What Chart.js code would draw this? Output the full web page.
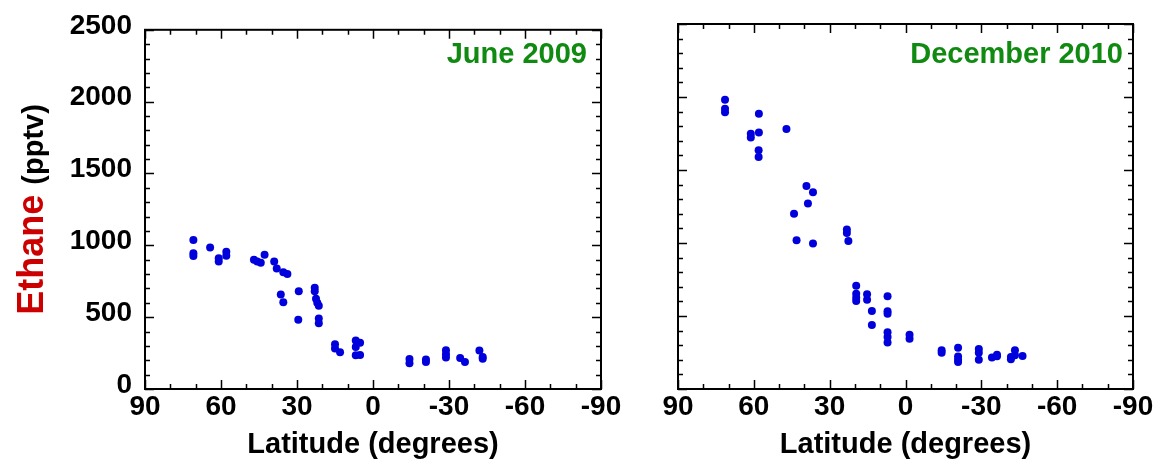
<!DOCTYPE html>
<html><head><meta charset="utf-8">
<script src="https://cdn.jsdelivr.net/npm/chart.js@4.4.0/dist/chart.umd.min.js"></script>
<style>
html,body{margin:0;padding:0;background:#fff;}
#wrap{position:relative;width:1168px;height:462px;}
canvas{position:absolute;left:0;top:0;}
</style></head>
<body><div id="wrap"><canvas id="c1" width="1168" height="462"></canvas><canvas id="c2" width="1168" height="462"></canvas></div>
<script>
const juneLat = [70.9,70.9,70.9,64.3,60.9,60.9,57.9,57.9,47.0,45.7,44.3,42.8,39.0,38.0,35.4,33.8,36.4,35.4,29.3,29.5,23.0,23.0,22.5,22.0,21.4,21.4,21.4,15.0,15.0,13.0,6.8,5.1,6.8,6.8,5.1,-14.4,-14.4,-20.9,-20.9,-28.8,-28.8,-28.8,-34.4,-36.3,-42.0,-43.3,-43.3];
const juneEthane = [1037,945,925,984,910,888,955,928,900,888,879,934,888,838,813,801,658,603,681,482,705,680,628,600,580,490,458,311,282,255,338,322,292,235,237,208,180,205,188,270,242,220,215,188,268,222,210];
const decLat = [71.4,71.4,71.4,58.0,61.2,61.2,58.0,47.1,58.1,58.1,39.2,36.6,38.6,44.1,43.1,36.6,23.2,23.2,22.6,19.5,19.5,19.5,19.5,15.2,15.2,13.3,13.3,7.1,7.1,7.1,7.1,7.1,7.1,-1.6,-1.6,-14.3,-14.3,-20.8,-20.8,-20.8,-20.8,-29.0,-29.0,-29.0,-34.2,-36.2,-36.2,-41.7,-41.7,-43.3,-43.3,-46.3];
const decEthane = [1982,1920,1895,1886,1749,1722,1756,1781,1635,1589,1390,1347,1270,1201,1018,996,1092,1068,1014,708,652,625,603,649,612,534,438,635,532,516,388,356,318,372,345,265,249,283,222,200,185,274,249,201,215,235,224,219,203,265,231,226];
const panelTitles = ["June 2009", "December 2010"];
const xMin = -90, xMax = 90, xStep = 30, xMinorStep = 10;
const yMin = 0, yMax = 2500, yStep = 500, yMinorStep = 100;

const FONT = "'Liberation Sans', Arial, sans-serif";
const BLUE = 'rgb(0,0,220)';
const GREEN = '#108a10';
const RED = '#cc0000';

const framePlugin = {
  id: 'frame',
  afterDraw(chart) {
    const ctx = chart.ctx, a = chart.chartArea;
    const xs = chart.scales.x, ys = chart.scales.y;
    const o = chart.options.plugins.frame;
    ctx.save();
    ctx.strokeStyle = '#000';
    ctx.lineWidth = 1.5;
    for (let v = xMin; v <= xMax; v += xMinorStep) {
      const px = Math.round(xs.getPixelForValue(v)) + 0.5;
      const len = (v % xStep === 0) ? 9 : 5;
      ctx.beginPath();
      ctx.moveTo(px, a.bottom); ctx.lineTo(px, a.bottom - len);
      ctx.moveTo(px, a.top); ctx.lineTo(px, a.top + len);
      ctx.stroke();
    }
    for (let v = yMin; v <= yMax; v += yMinorStep) {
      const py = Math.round(ys.getPixelForValue(v)) + 0.5;
      const len = (v % yStep === 0) ? 9 : 5;
      ctx.beginPath();
      ctx.moveTo(a.left, py); ctx.lineTo(a.left + len, py);
      ctx.moveTo(a.right, py); ctx.lineTo(a.right - len, py);
      ctx.stroke();
    }
    ctx.lineWidth = 2;
    ctx.strokeRect(a.left, a.top, a.right - a.left, a.bottom - a.top);
    // panel title
    ctx.fillStyle = GREEN;
    ctx.font = "bold 29px " + FONT;
    ctx.textAlign = 'right';
    ctx.textBaseline = 'alphabetic';
    ctx.fillText(o.title, a.right - o.titleInset, 63);
    // x axis title
    ctx.fillStyle = '#000';
    ctx.textAlign = 'center';
    ctx.fillText('Latitude (degrees)', (a.left + a.right) / 2, 453);
    if (o.yTitle) {
      ctx.save();
      const cy = (a.top + a.bottom) / 2;
      ctx.translate(43, cy);
      ctx.rotate(-Math.PI / 2);
      ctx.textAlign = 'left';
      ctx.font = "bold 36px " + FONT;
      const w1 = ctx.measureText('Ethane ').width;
      ctx.font = "bold 29px " + FONT;
      const w2 = ctx.measureText('(pptv)').width;
      const start = -(w1 + w2) / 2;
      ctx.font = "bold 36px " + FONT;
      ctx.fillStyle = RED;
      ctx.fillText('Ethane', start, 0);
      ctx.font = "bold 29px " + FONT;
      ctx.fillStyle = '#000';
      ctx.fillText('(pptv)', start + w1, 0);
      ctx.restore();
    }
    ctx.restore();
  }
};

function makeChart(id, lat, vals, opts) {
  const data = lat.map((x, i) => ({x: x, y: vals[i]}));
  return new Chart(document.getElementById(id), {
    type: 'scatter',
    data: { datasets: [{ data: data, backgroundColor: BLUE, borderColor: BLUE, borderWidth: 0, pointRadius: 4, pointHoverRadius: 4 }] },
    options: {
      responsive: false, animation: false, events: [],
      layout: { autoPadding: false, padding: { left: 0, right: opts.padRight, top: 24, bottom: 0 } },
      plugins: { legend: { display: false }, tooltip: { enabled: false },
        frame: { title: opts.title, titleInset: opts.titleInset, yTitle: opts.yTitle } },
      scales: {
        x: {
          type: 'linear', min: xMin, max: xMax, reverse: true,
          grid: { display: false, drawTicks: false }, border: { display: false },
          ticks: { stepSize: xStep, padding: 1, color: '#000', maxRotation: 0, autoSkip: false,
            font: { family: FONT, size: 28, weight: 'bold' }, callback: v => String(v) },
          afterFit: s => { s.height = 73; }
        },
        y: {
          type: 'linear', min: yMin, max: yMax,
          grid: { display: false, drawTicks: false }, border: { display: false },
          ticks: { stepSize: yStep, padding: 13, labelOffset: -4, color: '#000', display: opts.yLabels,
            font: { family: FONT, size: 28, weight: 'bold' }, callback: v => String(v) },
          afterFit: s => { s.width = opts.yWidth; }
        }
      }
    },
    plugins: [framePlugin]
  });
}

makeChart('c1', juneLat, juneEthane, { padRight: 1168 - 601, yWidth: 145, title: panelTitles[0], titleInset: 14, yTitle: true, yLabels: true });
makeChart('c2', decLat, decEthane, { padRight: 1168 - 1133, yWidth: 678, title: panelTitles[1], titleInset: 10, yTitle: false, yLabels: false });
</script>
</body></html>
